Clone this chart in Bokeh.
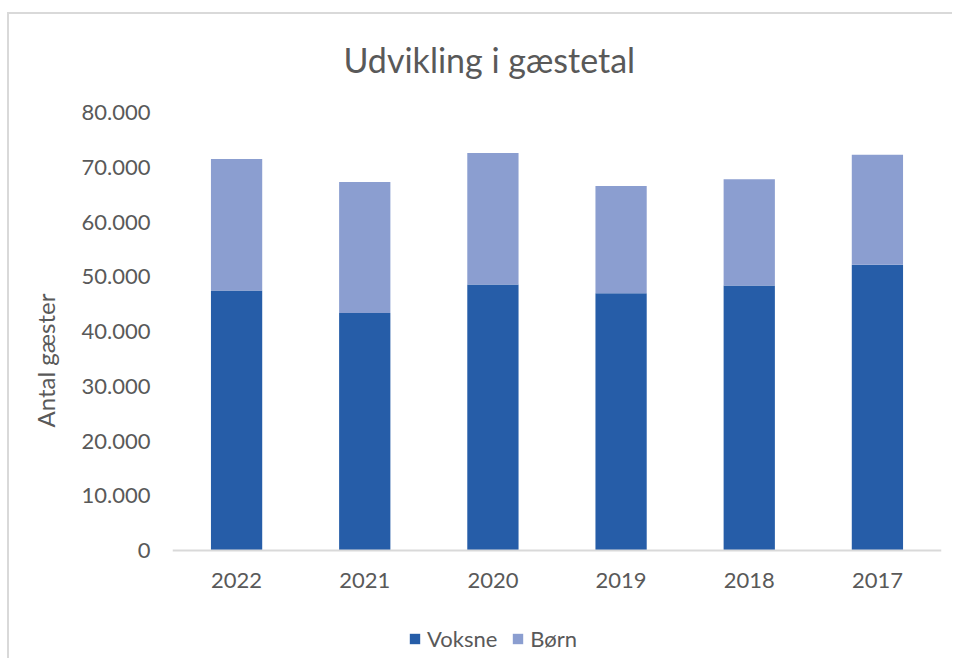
from bokeh.plotting import figure
from bokeh.models import ColumnDataSource, Legend, LegendItem, FixedTicker, Title
from bokeh.embed import file_html
from bokeh.resources import INLINE

years = ["2022", "2021", "2020", "2019", "2018", "2017"]
voksne = [47500, 43400, 48600, 47000, 48400, 52200]
boern = [24000, 23900, 24000, 19600, 19400, 20100]
series = ["Voksne", "Børn"]
colors = ["#265DA8", "#8B9ED0"]
y_ticks = [0, 10000, 20000, 30000, 40000, 50000, 60000, 70000, 80000]
y_tick_labels = ["0", "10.000", "20.000", "30.000", "40.000", "50.000", "60.000", "70.000", "80.000"]

FONT = "Lato"
TXT = "#595959"

# layout (canvas pixels): value 0 sits at y=536, 80.000 at y=97, frame from 86 to 646
W, H = 945, 646
FR_TOP, FR_BOTTOM, ZERO_PX, TOP_PX = 86, 646, 536, 97
px_per_unit = (ZERO_PX - TOP_PX) / y_ticks[-1]
y_start = -(FR_BOTTOM - ZERO_PX) / px_per_unit
y_end = y_ticks[-1] + (TOP_PX - FR_TOP) / px_per_unit

source = ColumnDataSource(data=dict(years=years, Voksne=voksne, Børn=boern))

p = figure(x_range=years, y_range=(y_start, y_end), width=W, height=H,
           output_backend="svg", toolbar_location=None,
           min_border_left=163, min_border_right=13, min_border_top=FR_TOP, min_border_bottom=0,
           styles={"border-left": "2px solid #d9d9d9", "border-top": "2px solid #d9d9d9",
                   "margin-top": "12px", "margin-left": "7px"})

r = p.vbar_stack(series, x="years", width=0.4, color=colors, source=source, line_color=None)

p.add_layout(Title(text="Udvikling i gæstetal", align="left", offset=171,
                   text_font=FONT, text_font_size="34px", text_font_style="normal",
                   text_color=TXT, standoff=44), "above")

p.outline_line_color = None
p.xgrid.grid_line_color = None
p.ygrid.grid_line_color = None

ya = p.yaxis[0]
ya.ticker = FixedTicker(ticks=y_ticks)
ya.major_label_overrides = {t: l for t, l in zip(y_ticks, y_tick_labels)}
ya.axis_line_color = None
ya.major_tick_line_color = None
ya.major_tick_out = 0
ya.minor_tick_line_color = None
ya.major_label_standoff = 22
ya.major_label_text_font = FONT
ya.major_label_text_font_size = "22px"
ya.major_label_text_color = TXT

# y-axis title placed as a side title so it can sit where the reference has it
p.add_layout(Title(text="Antal gæster", align="left", offset=233,
                   text_font=FONT, text_font_size="24px", text_font_style="normal",
                   text_color=TXT, standoff=37), "left")

xa = p.xaxis[0]
xa.fixed_location = 0
xa.axis_line_color = "#d9d9d9"
xa.axis_line_width = 2
xa.major_tick_line_color = None
xa.major_tick_out = 0
xa.minor_tick_line_color = None
xa.major_label_standoff = 22
xa.major_label_text_font = FONT
xa.major_label_text_font_size = "22px"
xa.major_label_text_color = TXT

legend = Legend(items=[LegendItem(label=s, renderers=[rr]) for s, rr in zip(series, r)],
                orientation="horizontal", location=(236, 8),
                label_text_font=FONT, label_text_font_size="22px", label_text_color=TXT,
                glyph_width=13, glyph_height=13, spacing=14, label_standoff=6,
                border_line_color=None, background_fill_alpha=0, padding=4, margin=0)
p.add_layout(legend, "center")

open("out.html", "w").write(file_html(p, INLINE))
